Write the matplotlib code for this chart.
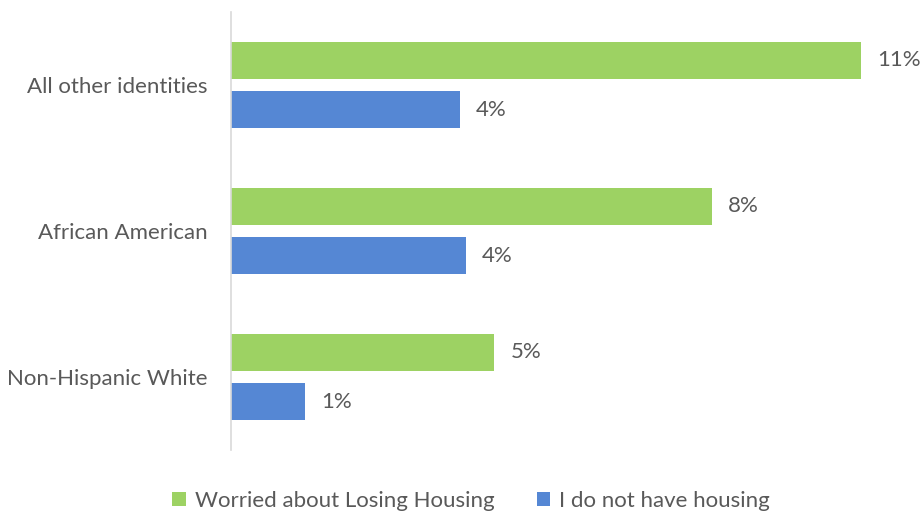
import matplotlib.pyplot as plt
import numpy as np

# survey results by identity group (percent of respondents)
groups = ['All other identities', 'African American', 'Non-Hispanic White']
worried = [11.0, 8.4, 4.6]
no_housing = [4.0, 4.1, 1.3]
series_names = ['Worried about Losing Housing', 'I do not have housing']

GREEN = '#9DD263'
BLUE = '#5587D4'
TEXT = '#595959'

plt.rcParams['font.family'] = ['Lato', 'DejaVu Sans']

fig = plt.figure(figsize=(9.23, 5.14), dpi=100)
ax = fig.add_axes([231 / 923, 64 / 514, 687 / 923, 438 / 514])

y = np.arange(len(groups))
h = 0.253
off = 0.168

b1 = ax.barh(y - off, worried, height=h, color=GREEN)
b2 = ax.barh(y + off, no_housing, height=h, color=BLUE)

for bars, vals in [(b1, worried), (b2, no_housing)]:
    for bar, v in zip(bars, vals):
        ax.annotate(f'{v:.0f}%', (bar.get_width(), bar.get_y() + bar.get_height() / 2),
                    xytext=(16, 0), textcoords='offset pixels',
                    va='center', ha='left', fontsize=16, color=TEXT)

ax.set_xlim(0, 12)
ax.set_ylim(2.5, -0.5)
ax.set_yticks(y)
ax.set_yticklabels(groups, fontsize=16, color=TEXT)
ax.tick_params(axis='y', length=0, pad=17)
ax.set_xticks([])
for s in ['top', 'right', 'bottom']:
    ax.spines[s].set_visible(False)
ax.spines['left'].set_color('#D9D9D9')
ax.spines['left'].set_linewidth(1.2)

leg = fig.legend([b1, b2], series_names, loc='center', bbox_to_anchor=(471 / 923, 1 - 501 / 514),
                 ncol=2, frameon=False, fontsize=16, handlelength=0.6, handleheight=0.6,
                 handletextpad=0.4, columnspacing=1.9)
for t in leg.get_texts():
    t.set_color(TEXT)

fig.savefig('out.png', dpi=100)
